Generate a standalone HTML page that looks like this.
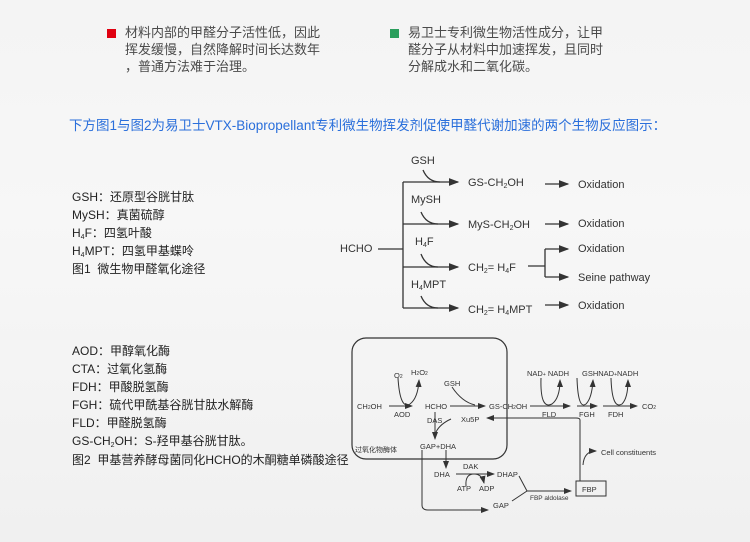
<!DOCTYPE html>
<html><head><meta charset="utf-8"><style>
body{margin:0;width:750px;height:542px;overflow:hidden;background:linear-gradient(180deg,#f4f4f4 0%,#f7f7f7 40%,#f0f0f0 100%);font-family:"Liberation Sans","Noto Sans CJK SC",sans-serif;position:relative;color:#222}
.t{position:absolute;font-size:12px;white-space:nowrap;line-height:14px}
.b{position:absolute;font-size:13px;color:#4a4a4a;line-height:17px;white-space:nowrap}
.sq{position:absolute;width:9px;height:9px}
sub{font-size:7px;vertical-align:-2px;line-height:0}
sup{font-size:7px;line-height:0}
</style></head><body>
<div class="sq" style="left:107px;top:29px;background:#e00010"></div>
<div class="b" style="left:125px;top:24px">材料内部的甲醛分子活性低，因此<br>挥发缓慢，自然降解时间长达数年<br>，普通方法难于治理。</div>
<div class="sq" style="left:390px;top:29px;background:#2a9e5c"></div>
<div class="b" style="left:408px;top:24px">易卫士专利微生物活性成分，让甲<br>醛分子从材料中加速挥发，且同时<br>分解成水和二氧化碳。</div>
<div class="t" style="left:69px;top:119px;font-size:13.5px;color:#2a6fdb">下方图1与图2为易卫士VTX-Biopropellant专利微生物挥发剂促使甲醛代谢加速的两个生物反应图示：</div>

<div class="t" style="left:72px;top:190px">GSH：还原型谷胱甘肽</div>
<div class="t" style="left:72px;top:208px">MySH：真菌硫醇</div>
<div class="t" style="left:72px;top:226px">H<sub>4</sub>F：四氢叶酸</div>
<div class="t" style="left:72px;top:244px">H<sub>4</sub>MPT：四氢甲基蝶呤</div>
<div class="t" style="left:72px;top:262px">图1&nbsp; 微生物甲醛氧化途径</div>

<div class="t" style="left:72px;top:344px">AOD：甲醇氧化酶</div>
<div class="t" style="left:72px;top:362px">CTA：过氧化氢酶</div>
<div class="t" style="left:72px;top:380px">FDH：甲酸脱氢酶</div>
<div class="t" style="left:72px;top:398px">FGH：硫代甲酰基谷胱甘肽水解酶</div>
<div class="t" style="left:72px;top:416px">FLD：甲醛脱氢酶</div>
<div class="t" style="left:72px;top:434px">GS-CH<sub>2</sub>OH：S-羟甲基谷胱甘肽。</div>
<div class="t" style="left:72px;top:453px">图2&nbsp; 甲基营养酵母菌同化HCHO的木酮糖单磷酸途径</div>

<svg width="750" height="542" style="position:absolute;left:0;top:0" font-family="Liberation Sans,sans-serif">
<defs><marker id="a" markerWidth="8" markerHeight="6" refX="7" refY="3" orient="auto"><path d="M0,0L8,3L0,6z" fill="#333"/></marker></defs>
<g stroke="#333" stroke-width="1.3" fill="none">
<path d="M378,249H403M403,182V308"/>
<path d="M403,182H458" marker-end="url(#a)"/><path d="M403,224H458" marker-end="url(#a)"/>
<path d="M403,267H458" marker-end="url(#a)"/><path d="M403,308H458" marker-end="url(#a)"/>
<path d="M423,170Q428,182 440,182M421,212Q426,224 438,224M421,254Q426,267 438,267M421,296Q426,308 438,308"/>
<path d="M545,184H568" marker-end="url(#a)"/><path d="M545,224H568" marker-end="url(#a)"/><path d="M545,305H568" marker-end="url(#a)"/>
<path d="M528,266H545M545,249V277"/><path d="M545,249H568" marker-end="url(#a)"/><path d="M545,277H568" marker-end="url(#a)"/>
</g>
<g font-size="11" fill="#333">
<text x="411" y="164">GSH</text><text x="468" y="186">GS-CH<tspan font-size="7" dy="2">2</tspan><tspan dy="-2">OH</tspan></text>
<text x="411" y="203">MySH</text><text x="468" y="228">MyS-CH<tspan font-size="7" dy="2">2</tspan><tspan dy="-2">OH</tspan></text>
<text x="340" y="252">HCHO</text>
<text x="415" y="245">H<tspan font-size="7" dy="2">4</tspan><tspan dy="-2">F</tspan></text>
<text x="468" y="271">CH<tspan font-size="7" dy="2">2</tspan><tspan dy="-2">= H</tspan><tspan font-size="7" dy="2">4</tspan><tspan dy="-2">F</tspan></text>
<text x="411" y="288">H<tspan font-size="7" dy="2">4</tspan><tspan dy="-2">MPT</tspan></text>
<text x="468" y="313">CH<tspan font-size="7" dy="2">2</tspan><tspan dy="-2">= H</tspan><tspan font-size="7" dy="2">4</tspan><tspan dy="-2">MPT</tspan></text>
<text x="578" y="188">Oxidation</text><text x="578" y="227">Oxidation</text><text x="578" y="252">Oxidation</text>
<text x="578" y="281">Seine pathway</text><text x="578" y="309">Oxidation</text>
</g>

<rect x="352" y="338" width="155" height="121" rx="14" fill="none" stroke="#333" stroke-width="1.2"/>
<g stroke="#333" stroke-width="1" fill="none">
<path d="M389,406H412" marker-end="url(#a)"/><path d="M398,378Q400,410 410,404Q418,398 419,380" marker-end="url(#a)"/>
<path d="M450,406H485" marker-end="url(#a)"/><path d="M452,387Q462,402 475,405"/>
<path d="M530,406H570" marker-end="url(#a)"/><path d="M541,378Q540,410 552,404Q560,398 560,380" marker-end="url(#a)"/>
<path d="M577,406H597" marker-end="url(#a)"/><path d="M577,378Q578,410 586,404Q592,398 593,380" marker-end="url(#a)"/>
<path d="M603,406H637" marker-end="url(#a)"/><path d="M611,378Q612,410 622,404Q628,398 628,380" marker-end="url(#a)"/>
<path d="M435,412V439" marker-end="url(#a)"/><path d="M451,419Q440,424 436,432"/>
<path d="M446,450V468" marker-end="url(#a)"/>
<path d="M422,450V505Q422,510 428,510H488" marker-end="url(#a)"/>
<path d="M456,474H494" marker-end="url(#a)"/><path d="M466,486Q465,474 474,474Q482,474 484,483" marker-end="url(#a)"/>
<path d="M519,476L527,491L512,501M527,491H571" marker-end="url(#a)"/>
<path d="M580,481V420Q580,418 576,418H487" marker-end="url(#a)"/>
<path d="M583,465Q584,451 596,451" marker-end="url(#a)"/>
</g>
<rect x="576" y="481" width="30" height="15" fill="none" stroke="#333" stroke-width="1"/>
<g font-size="7.5" fill="#333">
<text x="357" y="409">CH<tspan font-size="5">2</tspan>OH</text><text x="394" y="417">AOD</text>
<text x="394" y="378">O<tspan font-size="5">2</tspan></text><text x="411" y="375">H<tspan font-size="5">2</tspan>O<tspan font-size="5">2</tspan></text>
<text x="425" y="409">HCHO</text><text x="444" y="386">GSH</text>
<text x="489" y="409">GS-CH<tspan font-size="5">2</tspan>OH</text>
<text x="527" y="376">NAD<tspan font-size="5">+</tspan> NADH</text><text x="542" y="417">FLD</text>
<text x="582" y="376">GSHNAD<tspan font-size="5">+</tspan>NADH</text>
<text x="579" y="417">FGH</text><text x="608" y="417">FDH</text><text x="642" y="409">CO<tspan font-size="5">2</tspan></text>
<text x="427" y="423">DAS</text><text x="461" y="422">Xu5P</text>
<text x="420" y="449">GAP+DHA</text><text x="355" y="452" font-size="7" font-family="Noto Sans CJK SC,sans-serif">过氧化物酶体</text>
<text x="601" y="455">Cell constituents</text>
<text x="434" y="477">DHA</text><text x="463" y="469">DAK</text><text x="497" y="477">DHAP</text>
<text x="457" y="491">ATP</text><text x="479" y="491">ADP</text>
<text x="582" y="492">FBP</text><text x="530" y="500" font-size="6.5">FBP aldolase</text>
<text x="493" y="508">GAP</text>
</g>
</svg>
</body></html>
